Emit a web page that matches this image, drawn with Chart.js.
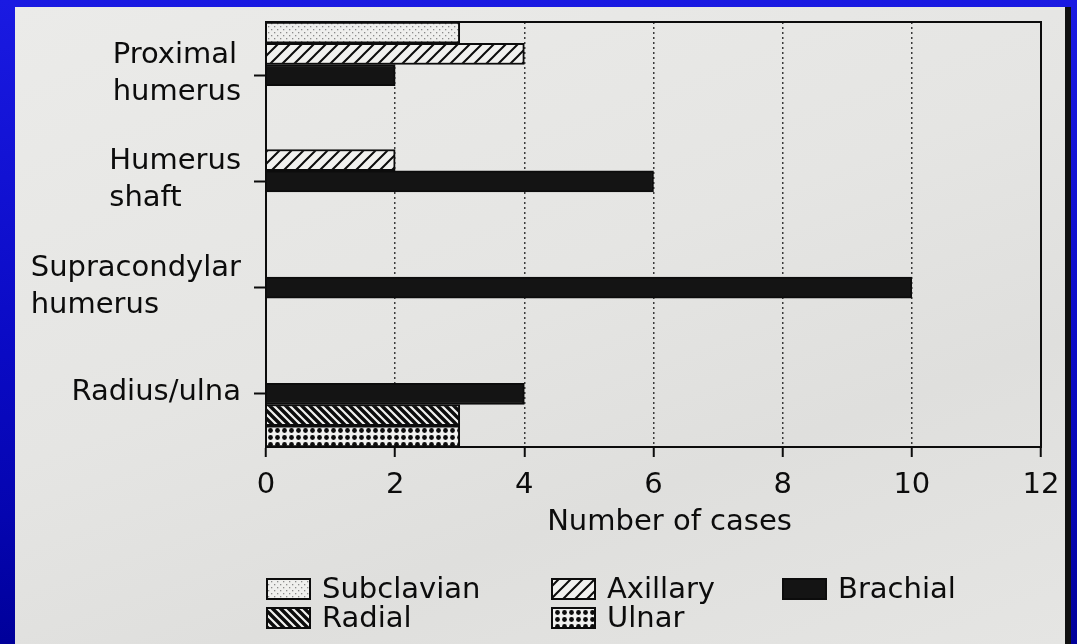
<!DOCTYPE html>
<html>
<head>
<meta charset="utf-8">
<script src="https://cdn.jsdelivr.net/npm/chart.js@4/dist/chart.umd.min.js"></script>
<style>
  html, body { margin: 0; padding: 0; }
  body {
    width: 1077px; height: 644px; overflow: hidden; position: relative;
    background: linear-gradient(180deg, #1a1ae2 0%, #0a0ac4 55%, #0505b0 80%, #00009a 100%);
  }
  #scan {
    position: absolute; left: 15px; top: 7px; width: 1050px; height: 637px;
    background: linear-gradient(160deg, #ebebe9 0%, #e5e5e3 45%, #dfdfdd 70%, #e5e5e3 100%);
    border-right: 6px solid #111;
  }
</style>
</head>
<body>
<div id="scan"><canvas id="fracture_chart"></canvas></div>
<script>
// Fracture site vs injured artery, number of cases
const sites = [['Proximal', 'humerus'], ['Humerus', 'shaft'], ['Supracondylar', 'humerus'], ['Radius/ulna']]
const subclavian = [3, null, null, null]
const axillary = [4, 2, null, null]
const brachial = [2, 6, 10, 4]
const radial = [null, null, null, 3]
const ulnar = [null, null, null, 3]
const case_ticks = [0, 2, 4, 6, 8, 10, 12]
const x_title = 'Number of cases'

const FONT = 'DejaVu Sans'
const INK = '#0c0c0c'

// small tiles used as bar fills, like the hatching of the printed figure
function make_pattern(size, draw)
{
    const c = document.createElement('canvas')
    c.width = size
    c.height = size
    const g = c.getContext('2d')
    draw(g, size)
    return g.createPattern(c, 'repeat')
}

const dotted_light = make_pattern(6, (g, s) => {
    g.fillStyle = '#efefed'
    g.fillRect(0, 0, s, s)
    g.fillStyle = '#8a8a8a'
    g.fillRect(1, 1, 1.3, 1.3)
    g.fillRect(4, 4, 1.3, 1.3)
})

const hatch_up = make_pattern(12, (g, s) => {
    g.fillStyle = '#f1f1ef'
    g.fillRect(0, 0, s, s)
    g.strokeStyle = INK
    g.lineWidth = 2
    g.beginPath()
    g.moveTo(-2, s + 2); g.lineTo(s + 2, -2)
    g.moveTo(-2, 2); g.lineTo(2, -2)
    g.moveTo(s - 2, s + 2); g.lineTo(s + 2, s - 2)
    g.stroke()
})

const hatch_down = make_pattern(8, (g, s) => {
    g.fillStyle = '#f1f1ef'
    g.fillRect(0, 0, s, s)
    g.strokeStyle = INK
    g.lineWidth = 3.4
    g.beginPath()
    g.moveTo(-2, -2); g.lineTo(s + 2, s + 2)
    g.moveTo(s - 2, -2); g.lineTo(s + 2, 2)
    g.moveTo(-2, s - 2); g.lineTo(2, s + 2)
    g.stroke()
})

const dot_grid = make_pattern(7, (g, s) => {
    g.fillStyle = '#f1f1ef'
    g.fillRect(0, 0, s, s)
    g.fillStyle = INK
    g.beginPath()
    g.arc(3.5, 3.5, 2.4, 0, Math.PI * 2)
    g.fill()
})

const series = [
    {label: 'Subclavian', data: subclavian, fill: dotted_light},
    {label: 'Axillary', data: axillary, fill: hatch_up},
    {label: 'Brachial', data: brachial, fill: '#141414'},
    {label: 'Radial', data: radial, fill: hatch_down},
    {label: 'Ulnar', data: ulnar, fill: dot_grid}
]

// frame round the plot area
const frame_plugin = {
    id: 'frame',
    afterDatasetsDraw(chart)
    {
        const {ctx, chartArea: a} = chart
        ctx.save()
        ctx.strokeStyle = INK
        ctx.lineWidth = 2
        ctx.strokeRect(a.left, a.top, a.right - a.left, a.bottom - a.top)
        ctx.restore()
    }
}

// category labels: block right aligned, lines left aligned inside the block
const site_label_plugin = {
    id: 'site_labels',
    afterDraw(chart)
    {
        const {ctx} = chart
        const scale = chart.scales.y
        ctx.save()
        ctx.font = `29px "${FONT}"`
        ctx.fillStyle = INK
        ctx.textBaseline = 'middle'
        ctx.textAlign = 'left'
        const line_h = 37
        sites.forEach((lines, i) => {
            const y = scale.getPixelForTick(i)
            const block_w = Math.max(...lines.map(l => ctx.measureText(l).width))
            const x = scale.right - 25 - block_w
            const y0 = y - (lines.length - 1) * line_h / 2 - 1
            lines.forEach((l, k) => ctx.fillText(l, x, y0 + k * line_h))
        })
        ctx.restore()
    }
}

// axis title (sits a bit right of centre in the print) and the column legend
const legend_plugin = {
    id: 'column_legend',
    afterDraw(chart)
    {
        const {ctx, chartArea: a} = chart
        ctx.save()
        ctx.font = `29px "${FONT}"`
        ctx.textBaseline = 'middle'
        ctx.fillStyle = INK

        ctx.textAlign = 'center'
        ctx.fillText(x_title, (a.left + a.right) / 2 + 16, a.bottom + 75)

        ctx.textAlign = 'left'
        const cols = [0, 285, 516]
        const rows = [582, 611]
        series.forEach((s, i) => {
            const x = a.left + cols[i % 3]
            const y = rows[Math.floor(i / 3)]
            ctx.fillStyle = s.fill
            ctx.fillRect(x, y - 11, 45, 22)
            ctx.strokeStyle = INK
            ctx.lineWidth = 2
            ctx.strokeRect(x + 1, y - 10, 43, 20)
            ctx.fillStyle = INK
            ctx.fillText(s.label, x + 56, y + 1)
        })
        ctx.restore()
    }
}

const ctx = document.getElementById('fracture_chart').getContext('2d')
const fracture_chart = new Chart(ctx, {
    type: 'bar',
    data: {
        labels: sites,
        datasets: series.map(s => ({
            label: s.label,
            data: s.data,
            backgroundColor: s.fill,
            borderColor: INK,
            borderWidth: 2,
            categoryPercentage: 1.0,
            barPercentage: 1.0
        }))
    },
    options: {
        indexAxis: 'y',
        responsive: true,
        maintainAspectRatio: false,
        animation: false,
        layout: {padding: {top: 15, right: 24, bottom: 97, left: 0}},
        plugins: {
            legend: {display: false},
            tooltip: {enabled: false}
        },
        scales: {
            x: {
                min: 0,
                max: 12,
                afterBuildTicks: scale => { scale.ticks = case_ticks.map(v => ({value: v})) },
                afterFit: scale => {
                    scale.height = 100
                    scale.paddingLeft = 0
                    scale.paddingRight = 0
                },
                ticks: {
                    color: INK,
                    padding: 11,
                    font: {family: FONT, size: 29}
                },
                grid: {
                    color: '#3a3a3a',
                    lineWidth: 1.5,
                    tickLength: 10,
                    tickColor: INK,
                    tickWidth: 2
                },
                border: {display: true, color: INK, width: 2, dash: [2, 3]},
                title: {display: false}
            },
            y: {
                afterFit: scale => { scale.width = 251 },
                ticks: {display: false},
                grid: {
                    offset: false,
                    drawOnChartArea: false,
                    tickLength: 12,
                    tickColor: INK,
                    tickWidth: 2
                },
                border: {display: true, color: INK, width: 2}
            }
        }
    },
    plugins: [frame_plugin, site_label_plugin, legend_plugin]
})
</script>
</body>
</html>
